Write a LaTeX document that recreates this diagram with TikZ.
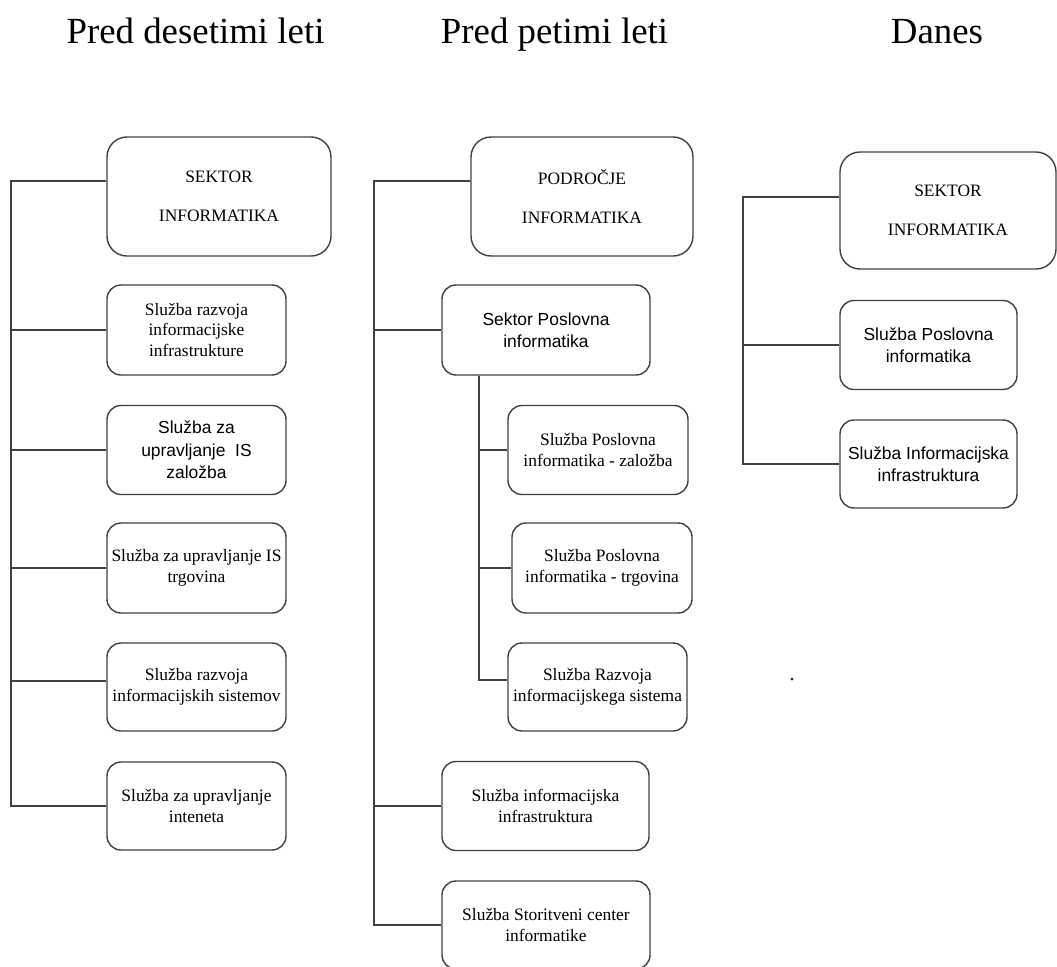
\documentclass[tikz,border=0pt]{standalone}
\usepackage{fontspec}
\setmainfont{Liberation Serif}
\newfontfamily\boxsans{Liberation Sans}
\begin{document}
\begin{tikzpicture}[x=1bp,y=-1bp,
  line/.style={draw=black!75,line width=1.4bp},
  unit/.style={line,rounded corners=14bp,inner sep=0pt,align=center,
    font=\fontsize{17.5}{21}\selectfont},
  head/.style={unit,rounded corners=20bp,font=\fontsize{17.5}{39}\selectfont},
  sansunit/.style={unit,font=\boxsans\fontsize{17.5}{22.5}\selectfont},
  title/.style={anchor=base,inner sep=0pt,font=\fontsize{37}{40}\selectfont}]
\useasboundingbox (0,0) rectangle (1057,967);

% column headings
\node[title] (t1) at (195.5,43.5) {Pred desetimi leti};
\node[title] (t2) at (554.5,43.5) {Pred petimi leti};
\node[title] (t3) at (937,43.5) {Danes};

% spines
\coordinate (sp1) at (11,0);
\coordinate (sp2) at (374,0);
\coordinate (sb)  at (479,0);
\coordinate (sp3) at (743,0);

% ten years ago
\node[head,minimum width=224bp,minimum height=119bp] (a0) at (219,196.5) {SEKTOR\\INFORMATIKA};
\node[unit,minimum width=179bp,minimum height=90bp] (a1) at (196.5,330) {Služba razvoja\\informacijske\\infrastrukture};
\node[sansunit,minimum width=179bp,minimum height=89bp] (a2) at (196.5,450) {Služba za\\upravljanje\ \ IS\\založba};
\node[unit,minimum width=179bp,minimum height=90bp] (a3) at (196.5,568) {Služba za upravljanje IS\\trgovina};
\node[unit,minimum width=179bp,minimum height=88bp] (a4) at (196.5,687) {Služba razvoja\\informacijskih sistemov};
\node[unit,minimum width=179bp,minimum height=88bp] (a5) at (196.5,806) {Služba za upravljanje\\inteneta};

\draw[line] ([yshift=15.5bp]a0.west) -| (a5.west -| sp1) -- (a5.west);
\draw[line] (a1.west) -- (a1.west -| sp1);
\draw[line] (a2.west) -- (a2.west -| sp1);
\draw[line] (a3.west) -- (a3.west -| sp1);
\draw[line] ([yshift=6bp]a4.west) -- ([yshift=6bp]a4.west -| sp1);

% five years ago
\node[head,minimum width=222bp,minimum height=119bp] (b0) at (582,196.5) {PODROČJE\\INFORMATIKA};
\node[sansunit,minimum width=208bp,minimum height=90bp] (b1) at (546,330) {Sektor Poslovna\\informatika};
\node[unit,minimum width=180bp,minimum height=89bp] (b2) at (598,450) {Služba Poslovna\\informatika - založba};
\node[unit,minimum width=180bp,minimum height=90bp] (b3) at (602,568) {Služba Poslovna\\informatika - trgovina};
\node[unit,minimum width=179bp,minimum height=88bp] (b4) at (597.5,687) {Služba Razvoja\\informacijskega sistema};
\node[unit,minimum width=207bp,minimum height=89bp] (b5) at (545.5,806) {Služba informacijska\\infrastruktura};
\node[unit,minimum width=208bp,minimum height=88bp] (b6) at (546,925) {Služba Storitveni center\\informatike};

\draw[line] ([yshift=15.5bp]b0.west) -| (b6.west -| sp2) -- (b6.west);
\draw[line] (b1.west) -- (b1.west -| sp2);
\draw[line] (b5.west) -- (b5.west -| sp2);
\draw[line] (b1.south -| sb) |- ([yshift=7bp]b4.west);
\draw[line] (b2.west) -- (b2.west -| sb);
\draw[line] (b3.west) -- (b3.west -| sb);

% today
\node[head,minimum width=216bp,minimum height=117bp] (c0) at (948,210.5) {SEKTOR\\INFORMATIKA};
\node[sansunit,minimum width=177bp,minimum height=89bp] (c1) at (928.5,345) {Služba Poslovna\\informatika};
\node[sansunit,minimum width=177bp,minimum height=88bp] (c2) at (928.5,464) {Služba Informacijska\\infrastruktura};

\draw[line] ([yshift=13.5bp]c0.west) -| (c2.west -| sp3) -- (c2.west);
\draw[line] (c1.west) -- (c1.west -| sp3);

% stray mark
\fill[black!80] (792,679) circle (1.6bp);
\end{tikzpicture}
\end{document}
